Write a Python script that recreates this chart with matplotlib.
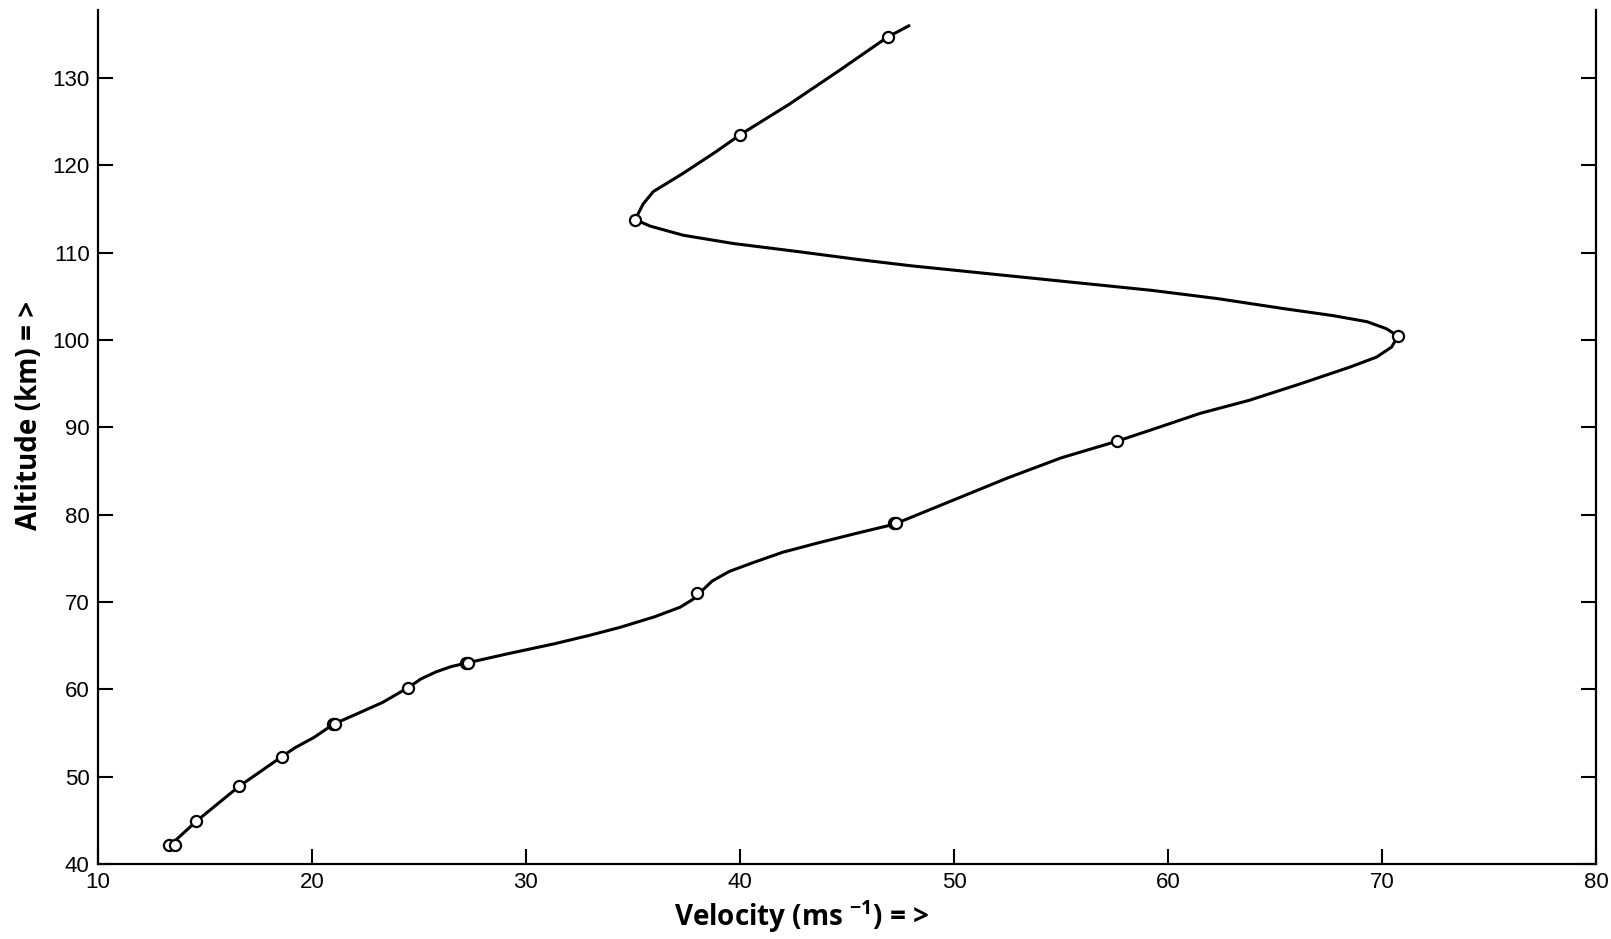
import numpy as np
import matplotlib
matplotlib.use("Agg")
import matplotlib.pyplot as plt

# measured points (circles)
marker_velocity = [13.3, 13.6, 14.6, 16.6, 18.6, 21.0, 21.1, 24.5, 27.2, 27.3,
                   38.0, 47.2, 47.3, 57.6, 70.75, 35.1, 40.0, 46.9]
marker_altitude = [42.2, 42.2, 44.9, 48.9, 52.3, 56.0, 56.0, 60.2, 63.0, 63.0,
                   71.0, 79.0, 79.0, 88.4, 100.45, 113.8, 123.5, 134.7]

# smooth profile
curve_velocity = [13.4, 14.6, 15.6, 16.6, 17.6, 18.6, 19.2, 20.1, 21.0, 22.2,
                  23.3, 24.5, 25.1, 25.8, 26.5, 27.2, 29.2, 31.3, 33.0, 34.4,
                  36.0, 37.2, 37.8, 38.1, 38.7, 39.5, 40.6, 42.0, 43.7, 45.5,
                  47.2, 49.3, 52.5, 55.0, 57.6, 59.2, 61.5, 63.8, 66.2, 68.5,
                  69.75, 70.45, 70.75, 70.2, 69.3, 67.7, 65.4, 62.3, 59.2, 56.0,
                  52.0, 48.0, 45.6, 42.8, 39.7, 37.35, 35.8, 35.1, 35.48, 35.95,
                  37.35, 38.9, 40.0, 42.3, 44.6, 46.9, 47.9]
curve_altitude = [42.2, 44.9, 46.9, 48.9, 50.6, 52.3, 53.3, 54.5, 56.0, 57.3,
                  58.5, 60.2, 61.2, 62.0, 62.6, 63.0, 64.1, 65.2, 66.2, 67.1,
                  68.3, 69.4, 70.3, 71.0, 72.4, 73.5, 74.5, 75.7, 76.8, 77.9,
                  78.9, 81.0, 84.2, 86.5, 88.4, 89.7, 91.6, 93.1, 95.0, 96.9,
                  98.05, 99.2, 100.45, 101.3, 102.1, 102.8, 103.6, 104.75, 105.7, 106.5,
                  107.5, 108.5, 109.2, 110.1, 111.05, 112.0, 113.05, 113.8, 115.6, 117.0,
                  119.1, 121.6, 123.5, 127.0, 130.8, 134.7, 136.0]

x_ticks = [10, 20, 30, 40, 50, 60, 70, 80]
y_ticks = [40, 50, 60, 70, 80, 90, 100, 110, 120, 130]

plt.rcParams["font.family"] = ["Liberation Sans", "DejaVu Sans"]
plt.rcParams["mathtext.fontset"] = "custom"
plt.rcParams["mathtext.rm"] = "Open Sans:bold"
plt.rcParams["mathtext.it"] = "Open Sans:bold"
plt.rcParams["mathtext.bf"] = "Open Sans:bold"

fig = plt.figure(figsize=(16.11, 9.39), dpi=100)
ax = fig.add_axes([0.0608, 0.0799, 0.9299, 0.9095])

ax.plot(curve_velocity, curve_altitude, color="black", linewidth=2.2,
        solid_joinstyle="round", solid_capstyle="round", zorder=2)
ax.plot(marker_velocity, marker_altitude, linestyle="none", marker="o",
        markersize=8, markerfacecolor="white", markeredgecolor="black",
        markeredgewidth=1.6, zorder=3)

ax.set_xlim(10, 80)
ax.set_ylim(40, 137.8)
ax.set_xticks(x_ticks)
ax.set_yticks(y_ticks)

for side in ["left", "right", "bottom"]:
    ax.spines[side].set_linewidth(1.6)
ax.spines["top"].set_visible(False)

ax.tick_params(axis="both", direction="in", length=11, width=1.5,
               labelsize=16, pad=6, right=True, top=False)

ax.set_xlabel(r"Velocity (ms $^{-1}$) = >", fontfamily="Open Sans",
              fontweight="bold", fontsize=20)
ax.set_ylabel("Altitude (km) = >", fontfamily="Open Sans",
              fontweight="bold", fontsize=20)
ax.xaxis.set_label_coords(0.47, -0.04)
ax.yaxis.set_label_coords(-0.036, 0.525)

fig.savefig("out.png", dpi=100, facecolor="white")
